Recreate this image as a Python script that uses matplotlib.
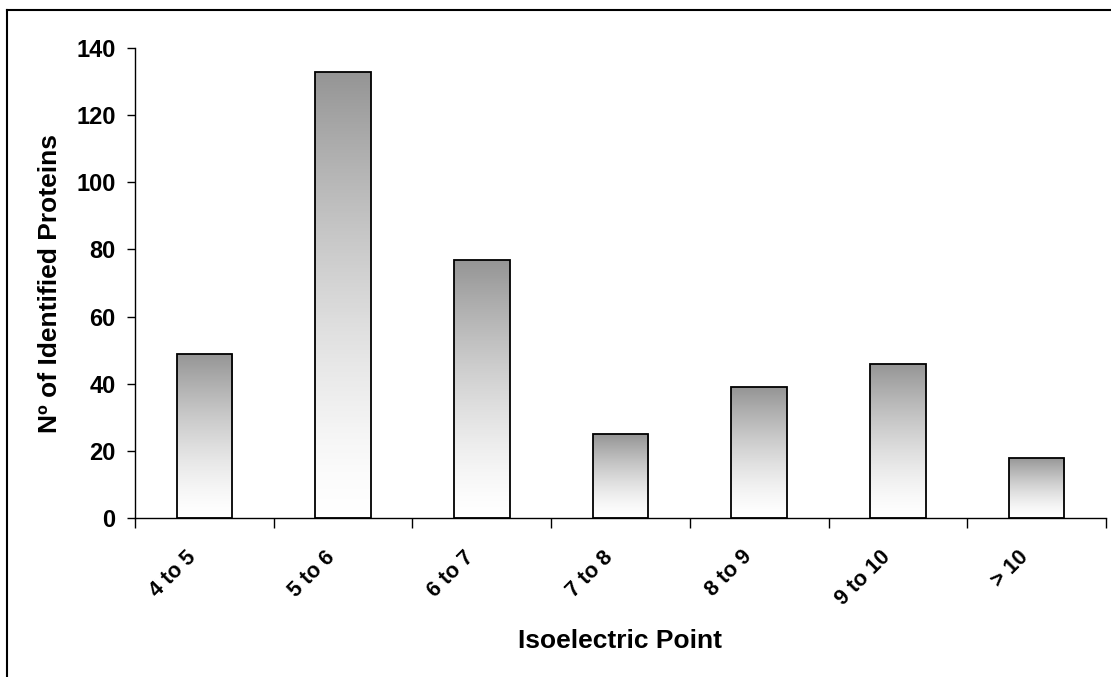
import numpy as np
import matplotlib
matplotlib.use("Agg")
import matplotlib.pyplot as plt
import matplotlib.transforms as mtransforms
from matplotlib.colors import LinearSegmentedColormap
from matplotlib.lines import Line2D

plt.rcParams['font.family'] = ['Liberation Sans', 'DejaVu Sans']
plt.rcParams['font.weight'] = 'bold'

categories = ["4 to 5", "5 to 6", "6 to 7", "7 to 8", "8 to 9", "9 to 10", "> 10"]
counts = [49, 133, 77, 25, 39, 46, 18]
y_ticks = [0, 20, 40, 60, 80, 100, 120, 140]

fig = plt.figure(figsize=(11.11, 6.77), dpi=100)
ax = fig.add_axes([135 / 1111, 1 - 518 / 677, (1106 - 135) / 1111, (518 - 48) / 677])

# grey-to-white fill, top to bottom of each bar
cmap = LinearSegmentedColormap.from_list("fade", ["#ffffff", "#959595"])
grad = (np.linspace(0, 1, 256) ** 1.4).reshape(-1, 1)

x = np.arange(len(categories)) + 0.5
width = 0.4
bars = ax.bar(x, counts, width=width, facecolor="none", edgecolor="black",
              linewidth=1.3, zorder=3)
for bar in bars:
    bx, by = bar.get_x(), bar.get_y()
    bw, bh = bar.get_width(), bar.get_height()
    im = ax.imshow(grad, cmap=cmap, aspect="auto", origin="lower",
                   extent=[bx, bx + bw, by, by + bh], zorder=2,
                   interpolation="bicubic", vmin=0, vmax=1)
    im.set_clip_path(bar)

ax.set_xlim(0, len(categories))
ax.set_ylim(0, 140)
ax.set_yticks(y_ticks)
ax.set_yticklabels([str(v) for v in y_ticks], fontsize=17, fontweight="bold")

# tick marks on category boundaries, labels at category centres
ax.set_xticks(np.arange(len(categories) + 1), minor=True)
ax.set_xticks(x)
ax.set_xticklabels(categories, fontsize=15.5, fontweight="bold",
                   rotation=45, ha="right", va="center", rotation_mode="anchor")
ax.tick_params(axis="x", which="major", length=0, pad=0)
ax.tick_params(axis="x", which="minor", length=7, width=1, direction="out")
ax.tick_params(axis="y", length=6, width=1, direction="out", pad=8)
offset = mtransforms.ScaledTranslation(-0.11, -0.36, fig.dpi_scale_trans)
for lab in ax.get_xticklabels():
    lab.set_transform(lab.get_transform() + offset)

for side in ["top", "right"]:
    ax.spines[side].set_visible(False)
for side in ["left", "bottom"]:
    ax.spines[side].set_linewidth(1)

ax.set_xlabel("Isoelectric Point", fontsize=19, fontweight="bold")
ax.xaxis.set_label_coords(0.5, -0.237)
ax.set_ylabel("Nº of Identified Proteins", fontsize=19, fontweight="bold")
ax.yaxis.set_label_coords(-0.075, 0.498)

# chart-area frame (top and left edges)
fig.add_artist(Line2D([7 / 1111, 7 / 1111], [0, 1 - 10 / 677],
                      color="black", linewidth=1.5, transform=fig.transFigure))
fig.add_artist(Line2D([7 / 1111, 1], [1 - 10 / 677, 1 - 10 / 677],
                      color="black", linewidth=1.5, transform=fig.transFigure))

fig.savefig("out.png", dpi=100)
